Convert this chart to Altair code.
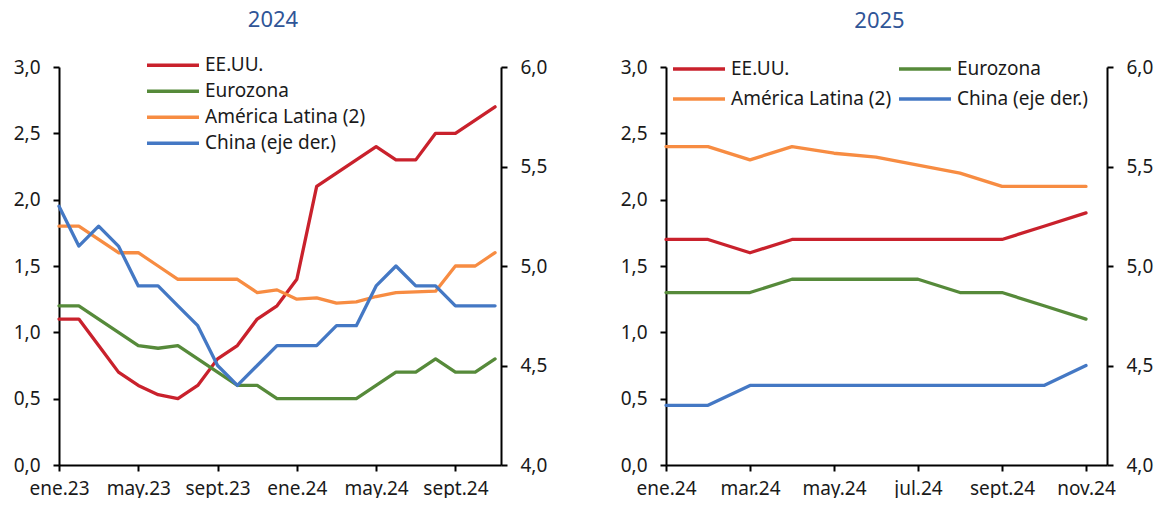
import altair as alt
import pandas as pd

FONT = "Noto Sans"
TXT = "#1a1a1a"

series_names = ["EE.UU.", "Eurozona", "América Latina (2)", "China (eje der.)"]
series_colors = ["#C9212C", "#568A3A", "#F78C42", "#4478C4"]

# ---- Panel 2024 (monthly, ene.23 .. nov.24) ----
ticks_2024 = ["ene.23", "may.23", "sept.23", "ene.24", "may.24", "sept.24"]
months_2024 = list(range(23))
eeuu_2024 = [1.1, 1.1, 0.9, 0.7, 0.6, 0.53, 0.5, 0.6, 0.8, 0.9, 1.1, 1.2, 1.4,
             2.1, 2.2, 2.3, 2.4, 2.3, 2.3, 2.5, 2.5, 2.6, 2.7]
euro_2024 = [1.2, 1.2, 1.1, 1.0, 0.9, 0.88, 0.9, 0.8, 0.7, 0.6, 0.6, 0.5, 0.5,
             0.5, 0.5, 0.5, 0.6, 0.7, 0.7, 0.8, 0.7, 0.7, 0.8]
latam_2024 = [1.8, 1.8, 1.7, 1.6, 1.6, 1.5, 1.4, 1.4, 1.4, 1.4, 1.3, 1.32, 1.25,
              1.26, 1.22, 1.23, 1.27, 1.3, 1.305, 1.31, 1.5, 1.5, 1.6]
china_2024 = [5.3, 5.1, 5.2, 5.1, 4.9, 4.9, 4.8, 4.7, 4.5, 4.4, 4.5, 4.6, 4.6,
              4.6, 4.7, 4.7, 4.9, 5.0, 4.9, 4.9, 4.8, 4.8, 4.8]

# ---- Panel 2025 (monthly, ene.24 .. nov.24) ----
ticks_2025 = ["ene.24", "mar.24", "may.24", "jul.24", "sept.24", "nov.24"]
months_2025 = list(range(11))
eeuu_2025 = [1.7, 1.7, 1.6, 1.7, 1.7, 1.7, 1.7, 1.7, 1.7, 1.8, 1.9]
euro_2025 = [1.3, 1.3, 1.3, 1.4, 1.4, 1.4, 1.4, 1.3, 1.3, 1.2, 1.1]
latam_2025 = [2.4, 2.4, 2.3, 2.4, 2.35, 2.32, 2.26, 2.2, 2.1, 2.1, 2.1]
china_2025 = [4.3, 4.3, 4.4, 4.4, 4.4, 4.4, 4.4, 4.4, 4.4, 4.4, 4.5]

left_ticks = [0, 0.5, 1.0, 1.5, 2.0, 2.5, 3.0]
right_ticks = [4.0, 4.5, 5.0, 5.5, 6.0]

COMMA = "replace(format(datum.value, '.1f'), '.', ',')"


def panel(months, us, ez, la, cn, tick_labels, step, xmax, title, legend, width):
    left_df = pd.DataFrame({
        "m": months * 3,
        "v": us + ez + la,
        "serie": [series_names[0]] * len(months) + [series_names[1]] * len(months)
                 + [series_names[2]] * len(months),
    })
    right_df = pd.DataFrame({"m": months, "v": cn, "serie": [series_names[3]] * len(months)})

    arr = "[" + ",".join("'%s'" % t for t in tick_labels) + "]"
    x = alt.X(
        "m:Q",
        scale=alt.Scale(domain=[0, xmax], nice=False, zero=False),
        axis=alt.Axis(values=[i * step for i in range(len(tick_labels))],
                      labelExpr=arr + "[round(datum.value/%d)]" % step,
                      title=None, grid=False, labelPadding=8, labelOverlap=False,
                      labelBound=False, labelFlush=False),
    )
    color = alt.Color("serie:N",
                      scale=alt.Scale(domain=series_names, range=series_colors),
                      sort=series_names, legend=legend)
    line = dict(strokeWidth=3.3, strokeJoin="round", strokeCap="round")
    l1 = alt.Chart(left_df).mark_line(**line).encode(
        x=x,
        y=alt.Y("v:Q", scale=alt.Scale(domain=[0, 3], nice=False, zero=False),
                axis=alt.Axis(orient="left", values=left_ticks, labelExpr=COMMA,
                              title=None, grid=False)),
        color=color,
    )
    l2 = alt.Chart(right_df).mark_line(**line).encode(
        x=x,
        y=alt.Y("v:Q", scale=alt.Scale(domain=[4, 6], nice=False, zero=False),
                axis=alt.Axis(orient="right", values=right_ticks, labelExpr=COMMA,
                              title=None, grid=False)),
        color=color,
    )
    return alt.layer(l1, l2).resolve_scale(y="independent").properties(
        width=width, height=398,
        title=alt.TitleParams(title, anchor="middle", frame="group", baseline="alphabetic",
                              offset=4, fontSize=22, color="#2F5597", font=FONT,
                              fontWeight="normal", dx=-7),
    )


common_legend = dict(orient="none", symbolType="stroke", symbolSize=2704,
                     symbolStrokeWidth=3.3, rowPadding=0, labelOffset=4, padding=0,
                     title=None, labelFontSize=19, labelFont=FONT, labelColor=TXT,
                     labelLimit=0)

legend_2024 = alt.Legend(legendX=86, legendY=-14.5, direction="vertical", columns=1,
                         clipHeight=25.5, **common_legend)
legend_2025 = alt.Legend(legendX=5, legendY=-13, direction="horizontal", columns=2,
                         clipHeight=30, columnPadding=5, **common_legend)

p1 = panel(months_2024, eeuu_2024, euro_2024, latam_2024, china_2024, ticks_2024, 4, 22.3,
           "2024", legend_2024, 442)
p2 = panel(months_2025, eeuu_2025, euro_2025, latam_2025, china_2025, ticks_2025, 2, 10.5,
           "2025", legend_2025, 441)

chart = alt.hconcat(p1, p2, spacing=73).resolve_scale(color="independent").resolve_legend(
    color="independent"
).properties(padding={"left": 5, "top": 0, "right": 5, "bottom": 0}).configure_view(
    stroke=None
).configure_axis(
    labelFont=FONT, labelFontSize=19, labelColor=TXT, domainColor="#000000",
    domainWidth=2, tickColor="#000000", tickWidth=2, tickSize=6, labelPadding=13,
)

chart.save("out.html", embed_options={"renderer": "svg", "actions": False})
